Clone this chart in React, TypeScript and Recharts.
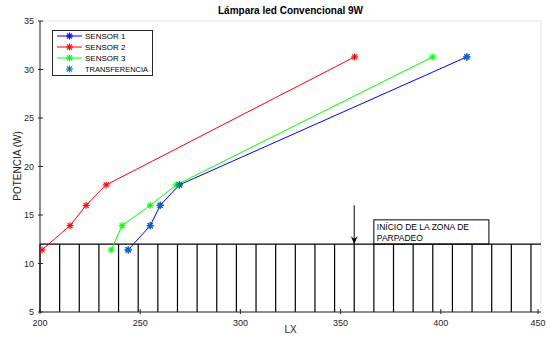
import { ComposedChart, Line, Scatter, XAxis, YAxis, CartesianGrid, ReferenceLine, ReferenceArea } from "recharts";

// Lux readings (x) per sensor and the matching lamp power (y)
const LUX_S1 = [244, 255, 260, 269.5, 413];
const LUX_S2 = [201, 215, 223, 233, 357];
const LUX_S3 = [235.5, 241, 255, 268, 396];
const POWER = [11.4, 13.9, 16, 18.1, 31.3];

const X_TICKS = [200, 250, 300, 350, 400, 450];
const Y_TICKS = [5, 10, 15, 20, 25, 30, 35];

// vertical bars of the flicker band
const BAND_X = [
  200, 209.8, 219.6, 229.4, 239.2, 249, 258.8, 268.6, 278.4, 288.2, 298, 307.8, 317.6,
  327.4, 337.2, 347, 356.8, 366.6, 376.4, 386.2, 396, 405.8, 415.6, 425.4, 435.2, 445,
];
const BAND_TOP = 12;
const BAND_BOTTOM = 5;
const ARROW = { x: 356.8, from: 16, to: 12 };
const NOTE = { x1: 366.6, x2: 424, y1: 12, y2: 14.5, lines: ["INÍCIO DE LA ZONA DE", "PARPADEO"] };

const SERIES = [
  { name: "SENSOR 1", lux: LUX_S1, color: "#0000ff" },
  { name: "SENSOR 2", lux: LUX_S2, color: "#ff0000" },
  { name: "SENSOR 3", lux: LUX_S3, color: "#00ff00" },
];
const TRANSFER_COLOR = "#0072bd";

const W = 550;
const H = 338;
const FONT = "'Liberation Sans', Arial, Helvetica, sans-serif";
const AX = "#262626";

function Star({ cx, cy, color, r = 3.5 }: { cx: number; cy: number; color: string; r?: number }) {
  const d = r * 0.72;
  return (
    <g stroke={color} strokeWidth={1.1}>
      <line x1={cx - r} y1={cy} x2={cx + r} y2={cy} />
      <line x1={cx} y1={cy - r} x2={cx} y2={cy + r} />
      <line x1={cx - d} y1={cy - d} x2={cx + d} y2={cy + d} />
      <line x1={cx - d} y1={cy + d} x2={cx + d} y2={cy - d} />
    </g>
  );
}

// MATLAB-style ticks: short marks pointing into the plot, optional label
function InTick(props: any) {
  const { x, y, payload, side } = props;
  if (side === "bottom")
    return (
      <g>
        <line x1={x} y1={y} x2={x} y2={y - 5} stroke={AX} />
        <text x={x} y={y + 12} textAnchor="middle" fontSize={9} fill={AX} fontFamily={FONT}>{payload.value}</text>
      </g>
    );
  if (side === "top") return <line x1={x} y1={y} x2={x} y2={y + 5} stroke={AX} />;
  if (side === "left")
    return (
      <g>
        <line x1={x} y1={y} x2={x + 5} y2={y} stroke={AX} />
        <text x={x - 4} y={y + 3} textAnchor="end" fontSize={9} fill={AX} fontFamily={FONT}>{payload.value}</text>
      </g>
    );
  return <line x1={x} y1={y} x2={x - 5} y2={y} stroke={AX} />;
}

function Arrow(props: any) {
  const { x1, y1, x2, y2 } = props;
  return (
    <g>
      <line x1={x1} y1={y1} x2={x2} y2={y2} stroke="#000" strokeWidth={1} />
      <path d={`M${x2 - 3.5},${y2 - 8} L${x2},${y2} L${x2 + 3.5},${y2 - 8} L${x2},${y2 - 5} Z`} fill="#000" />
    </g>
  );
}

function NoteBox(props: any) {
  const { x, y, width, height } = props;
  return (
    <g>
      <rect x={x} y={y} width={width} height={height} fill="#fff" stroke="#000" strokeWidth={1} />
      {NOTE.lines.map((t, i) => (
        <text key={t} x={x + 3} y={y + 10 + i * 11} fontSize={8.5} fill="#000" fontFamily={FONT}>{t}</text>
      ))}
    </g>
  );
}

export default function App() {
  const lines = SERIES.map((s) => ({ ...s, data: s.lux.map((x, i) => ({ x, y: POWER[i] })) }));
  const transfer = LUX_S1.map((x, i) => ({ x, y: POWER[i] }));

  return (
    <div style={{ position: "absolute", left: 0, top: 0, width: W, height: H, background: "#fff" }}>
      <ComposedChart width={W} height={H} margin={{ top: 21, right: 9, left: 0, bottom: 0 }}>
        <CartesianGrid stroke="#e6e6e6" strokeWidth={1} />
        <XAxis
          xAxisId="b" type="number" dataKey="x" domain={[200, 450]} ticks={X_TICKS}
          allowDataOverflow height={26} tickSize={0} tickLine={false}
          axisLine={{ stroke: AX }} tick={<InTick side="bottom" />}
        />
        <XAxis
          xAxisId="t" orientation="top" type="number" domain={[200, 450]} ticks={X_TICKS}
          height={0} tickSize={0} tickLine={false} axisLine={{ stroke: AX }} tick={<InTick side="top" />}
        />
        <YAxis
          yAxisId="l" type="number" domain={[5, 35]} ticks={Y_TICKS} allowDataOverflow
          width={40} tickSize={0} tickLine={false} axisLine={{ stroke: AX }} tick={<InTick side="left" />}
        />
        <YAxis
          yAxisId="r" orientation="right" type="number" domain={[5, 35]} ticks={Y_TICKS}
          width={0} tickSize={0} tickLine={false} axisLine={{ stroke: AX }} tick={<InTick side="right" />}
        />

        {BAND_X.map((x) => (
          <ReferenceLine
            key={x} xAxisId="b" yAxisId="l" stroke="#000" strokeWidth={1.2}
            segment={[{ x, y: BAND_BOTTOM }, { x, y: BAND_TOP }]}
          />
        ))}
        <ReferenceLine
          xAxisId="b" yAxisId="l" stroke="#000" strokeWidth={1.2}
          segment={[{ x: 200, y: BAND_TOP }, { x: 450, y: BAND_TOP }]}
        />
        <ReferenceLine
          xAxisId="b" yAxisId="l" shape={<Arrow />}
          segment={[{ x: ARROW.x, y: ARROW.from }, { x: ARROW.x, y: ARROW.to }]}
        />
        <ReferenceArea
          xAxisId="b" yAxisId="l" x1={NOTE.x1} x2={NOTE.x2} y1={NOTE.y1} y2={NOTE.y2}
          shape={<NoteBox />}
        />

        {lines.map((s) => (
          <Line
            key={s.name} xAxisId="b" yAxisId="l" data={s.data} dataKey="y" type="linear"
            stroke={s.color} strokeWidth={1} isAnimationActive={false}
            dot={(p: any) => <Star key={`${s.name}-${p.index}`} cx={p.cx} cy={p.cy} color={s.color} />}
            activeDot={false}
          />
        ))}
        <Scatter
          xAxisId="b" yAxisId="l" data={transfer} dataKey="y" isAnimationActive={false}
          shape={(p: any) => <Star cx={p.cx} cy={p.cy} color={TRANSFER_COLOR} />}
        />
      </ComposedChart>

      <svg width={W} height={H} style={{ position: "absolute", left: 0, top: 0, pointerEvents: "none" }}>
        <text x={290.5} y={14} textAnchor="middle" fontSize={10} fontWeight="bold" fill="#000" fontFamily={FONT}>
          Lámpara led Convencional 9W
        </text>
        <text x={290.5} y={333} textAnchor="middle" fontSize={10} fill={AX} fontFamily={FONT}>LX</text>
        <text
          x={0} y={0} transform="translate(21,166) rotate(-90)" textAnchor="middle"
          fontSize={10} fill={AX} fontFamily={FONT}
        >
          POTENCIA (W)
        </text>

        <g>
          <rect x={52.5} y={30.5} width={100} height={45} fill="#fff" stroke={AX} strokeWidth={1} />
          {SERIES.map((s, i) => (
            <g key={s.name}>
              <line x1={57} y1={36 + i * 11} x2={82} y2={36 + i * 11} stroke={s.color} strokeWidth={1} />
              <Star cx={69.5} cy={36 + i * 11} color={s.color} />
              <text x={85} y={39 + i * 11} fontSize={8} fill="#000" fontFamily={FONT}>{s.name}</text>
            </g>
          ))}
          <Star cx={69.5} cy={69} color={TRANSFER_COLOR} />
          <text x={85} y={72} fontSize={8} textLength={63} lengthAdjust="spacingAndGlyphs" fill="#000" fontFamily={FONT}>
            TRANSFERENCIA
          </text>
        </g>
      </svg>
    </div>
  );
}
